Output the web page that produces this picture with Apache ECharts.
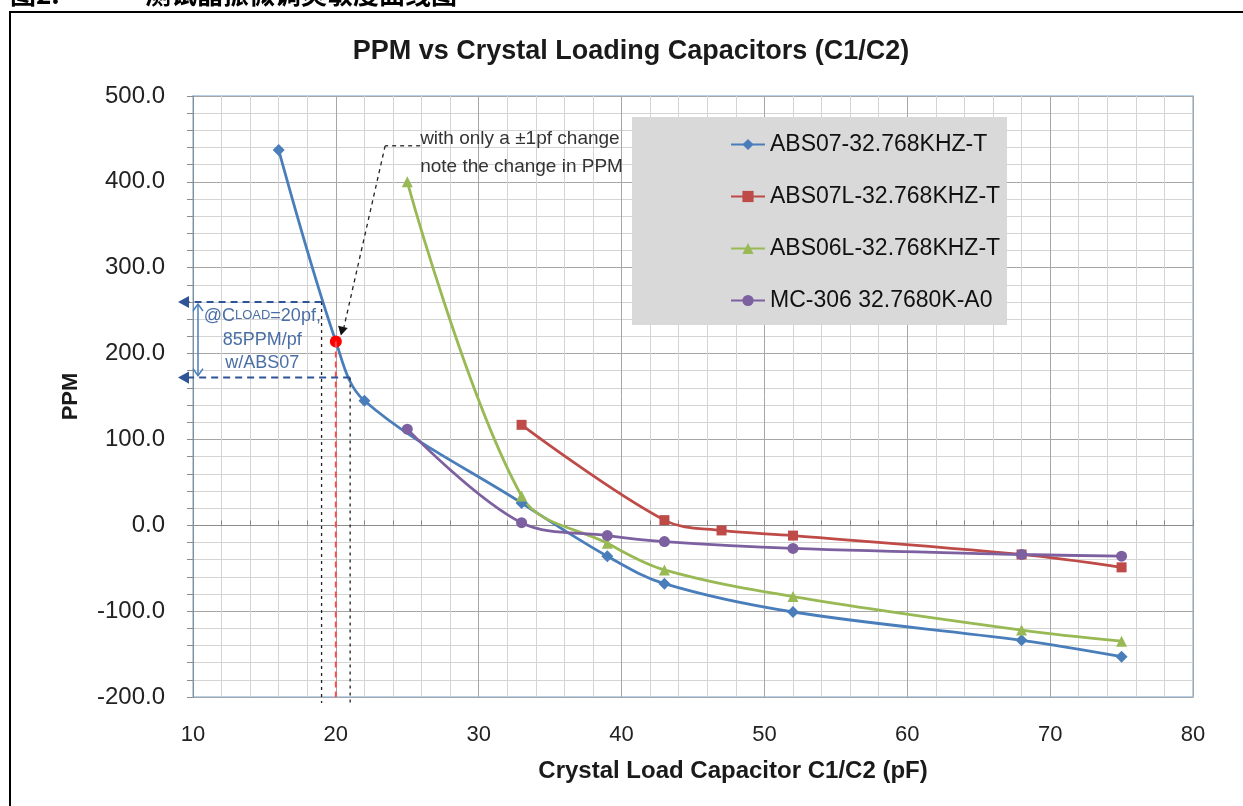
<!DOCTYPE html>
<html>
<head>
<meta charset="utf-8">
<script src="https://cdn.jsdelivr.net/npm/echarts@6/dist/echarts.min.js"></script>
<style>
html, body { margin: 0; padding: 0; background: #fff; }
#main { width: 1243px; height: 806px; }
</style>
</head>
<body>
<div id="main"></div>
<script>
// tick labels
var xTicks = [10, 20, 30, 40, 50, 60, 70, 80];
var yTicks = [-200, -100, 0, 100, 200, 300, 400, 500];

// series names
var seriesNames = ["ABS07-32.768KHZ-T", "ABS07L-32.768KHZ-T", "ABS06L-32.768KHZ-T", "MC-306 32.7680K-A0"];

// load capacitor (pF) / PPM
var abs07Cap = [16, 20, 22, 33, 39, 43, 52, 68, 75];
var abs07Ppm = [437, 214, 145, 26, -36, -68, -101, -134, -153];
var abs07lCap = [33, 43, 47, 52, 68, 75];
var abs07lPpm = [117, 6, -6, -12, -34, -49];
var abs06lCap = [25, 33, 39, 43, 52, 68, 75];
var abs06lPpm = [400, 34, -21, -52, -83, -122, -135];
var mc306Cap = [25, 33, 39, 43, 52, 68, 75];
var mc306Ppm = [112, 3, -12, -19, -27, -34, -36];

// the marked point and the ±1pf span around it
var markCap = 20;
var spanLow = 19, spanHigh = 21;
var ppmAtLow = 260, ppmAtHigh = 172;

var colors = ["#4A7EBB", "#BE4B48", "#98B954", "#7D60A0"];
var font = "Liberation Sans";

function pairs(xs, ys) {
  return xs.map(function (x, i) { return [x, ys[i]]; });
}

var blueData = pairs(abs07Cap, abs07Ppm).map(function (p) {
  if (p[0] === markCap) {
    return { value: p, symbol: "circle", symbolSize: 12, itemStyle: { color: "#FF0000" } };
  }
  return p;
});

let myChart = echarts.init(document.getElementById("main"));

function mkSeries(name, data, symbol, size, color) {
  return {
    name: name,
    type: "line",
    data: data,
    smooth: 0.35,
    symbol: symbol,
    symbolSize: size,
    showAllSymbol: true,
    lineStyle: { width: 2.8, color: color },
    itemStyle: { color: color },
    z: 3
  };
}

var option = {
  animation: false,
  title: {
    text: "PPM vs Crystal Loading Capacitors (C1/C2)",
    left: 626,
    top: 33,
    textAlign: "center",
    textStyle: { fontFamily: font, fontSize: 27, fontWeight: "bold", color: "#1a1a1a" }
  },
  grid: {
    left: 193,
    right: 50,
    top: 96,
    bottom: 109,
    show: true,
    borderColor: "#9DC3E6",
    borderWidth: 1.5
  },
  legend: {
    orient: "vertical",
    left: 725,
    top: 128,
    itemGap: 29,
    itemWidth: 34,
    itemHeight: 14,
    z: 6,
    data: seriesNames,
    textStyle: { fontFamily: font, fontSize: 23, color: "#111" }
  },
  xAxis: [
    {
      type: "value",
      min: xTicks[0],
      max: xTicks[xTicks.length - 1],
      interval: 10,
      name: "Crystal Load Capacitor C1/C2 (pF)",
      nameLocation: "middle",
      nameGap: 62,
      nameTextStyle: { fontFamily: font, fontSize: 24, fontWeight: "bold", color: "#1a1a1a", padding: [0, 0, 0, 80] },
      axisLine: { show: false, onZero: false },
      axisTick: { show: false },
      axisLabel: { margin: 27, fontFamily: font, fontSize: 22, color: "#222" },
      splitLine: { show: true, lineStyle: { color: "#A6A6A6", width: 1 } },
      minorTick: { show: false, splitNumber: 5 },
      minorSplitLine: { show: true, lineStyle: { color: "#D4D4D4", width: 1 } }
    },
    {
      type: "value",
      min: xTicks[0],
      max: xTicks[xTicks.length - 1],
      interval: 10,
      axisLine: { show: true, onZero: true, lineStyle: { color: "#8C8C8C", width: 1 } },
      axisTick: { show: true, length: 5, lineStyle: { color: "#8C8C8C" } },
      minorTick: { show: true, splitNumber: 5, length: 5, lineStyle: { color: "#8C8C8C" } },
      axisLabel: { show: false },
      splitLine: { show: false }
    }
  ],
  yAxis: {
    type: "value",
    min: yTicks[0],
    max: yTicks[yTicks.length - 1],
    interval: 100,
    name: "PPM",
    nameLocation: "middle",
    nameGap: 111,
    nameTextStyle: { fontFamily: font, fontSize: 22, fontWeight: "bold", color: "#1a1a1a" },
    axisLine: { show: true, lineStyle: { color: "#8C8C8C", width: 1 } },
    axisTick: { show: true, length: 6, lineStyle: { color: "#8C8C8C" } },
    minorTick: { show: true, splitNumber: 5, length: 6, lineStyle: { color: "#8C8C8C" } },
    axisLabel: {
      margin: 28,
      fontFamily: font,
      fontSize: 24,
      color: "#222",
      formatter: function (v) { return v.toFixed(1); }
    },
    splitLine: { show: true, lineStyle: { color: "#A6A6A6", width: 1 } },
    minorSplitLine: { show: true, lineStyle: { color: "#D4D4D4", width: 1 } }
  },
  series: [
    mkSeries(seriesNames[0], blueData, "diamond", 12, colors[0]),
    mkSeries(seriesNames[1], pairs(abs07lCap, abs07lPpm), "rect", 10, colors[1]),
    mkSeries(seriesNames[2], pairs(abs06lCap, abs06lPpm), "triangle", 11, colors[2]),
    mkSeries(seriesNames[3], pairs(mc306Cap, mc306Ppm), "circle", 11, colors[3])
  ]
};

option && myChart.setOption(option);

// annotations, placed through the chart's own scales
function px(x, y) {
  return myChart.convertToPixel({ gridIndex: 0 }, [x, y]);
}
function dashLine(a, b, color, width, dash) {
  return {
    type: "line",
    z: 10,
    shape: { x1: a[0], y1: a[1], x2: b[0], y2: b[1] },
    style: { stroke: color, lineWidth: width, lineDash: dash }
  };
}
function arrowHead(tip, from, color, size) {
  var dx = tip[0] - from[0], dy = tip[1] - from[1];
  var len = Math.sqrt(dx * dx + dy * dy);
  var ux = dx / len, uy = dy / len;
  var bx = tip[0] - ux * size, by = tip[1] - uy * size;
  var w = size * 0.55;
  return {
    type: "polygon",
    z: 11,
    shape: { points: [tip, [bx - uy * w, by + ux * w], [bx + uy * w, by - ux * w]] },
    style: { fill: color }
  };
}

var yBottom = px(markCap, yTicks[0])[1];
var blue = "#2F5597";
var lowTop = px(spanLow, ppmAtLow);
var highTop = px(spanHigh, ppmAtHigh);
var leftEnd = 178;
var markPt = px(markCap, abs07Ppm[abs07Cap.indexOf(markCap)]);
var g = [];

g.push({
  type: "rect", z: 3,
  shape: { x: 632, y: 117, width: 375, height: 208 },
  style: { fill: "#D9D9D9" }
});

// black dashed verticals at 19 and 21 pF, red at 20 pF
g.push(dashLine(lowTop, [lowTop[0], yBottom + 6], "#222", 1.3, [3, 4]));
g.push(dashLine(highTop, [highTop[0], yBottom + 8], "#222", 1.3, [3, 4]));
g.push(dashLine(markPt, [markPt[0], yBottom], "#FF4D4D", 2, [6, 4]));

// blue horizontal arrows
g.push(dashLine(lowTop, [leftEnd + 8, lowTop[1]], blue, 2, [7, 5]));
g.push(arrowHead([leftEnd, lowTop[1]], [leftEnd + 10, lowTop[1]], blue, 11));
g.push(dashLine(highTop, [leftEnd + 8, highTop[1]], blue, 2, [7, 5]));
g.push(arrowHead([leftEnd, highTop[1]], [leftEnd + 10, highTop[1]], blue, 11));

// blue double arrow
var vx = px(10.35, 0)[0];
g.push({
  type: "line", z: 10,
  shape: { x1: vx, y1: lowTop[1] + 2, x2: vx, y2: highTop[1] - 2 },
  style: { stroke: "#4A7EBB", lineWidth: 1.5 }
});
g.push({
  type: "polyline", z: 10,
  shape: { points: [[vx - 5, highTop[1] - 9], [vx, highTop[1] - 2], [vx + 5, highTop[1] - 9]] },
  style: { stroke: "#4A7EBB", lineWidth: 1.5, fill: null }
});
g.push({
  type: "polyline", z: 10,
  shape: { points: [[vx - 5, lowTop[1] + 9], [vx, lowTop[1] + 2], [vx + 5, lowTop[1] + 9]] },
  style: { stroke: "#4A7EBB", lineWidth: 1.5, fill: null }
});

// blue note
var noteX = px(14.85, 0)[0];
var noteColor = "#4A6FA5";
g.push({
  type: "text", z: 12,
  style: {
    x: noteX, y: px(0, 244)[1],
    text: "@C{s|LOAD}=20pf,",
    align: "center", verticalAlign: "middle",
    fontFamily: font, fontSize: 18, fill: noteColor,
    rich: { s: { fontFamily: font, fontSize: 13, fill: noteColor } }
  }
});
g.push({
  type: "text", z: 12,
  style: {
    x: noteX, y: px(0, 216)[1], text: "85PPM/pf",
    align: "center", verticalAlign: "middle",
    fontFamily: font, fontSize: 18, fill: noteColor
  }
});
g.push({
  type: "text", z: 12,
  style: {
    x: noteX, y: px(0, 189)[1], text: "w/ABS07",
    align: "center", verticalAlign: "middle",
    fontFamily: font, fontSize: 18, fill: noteColor
  }
});

// black dashed pointer to the marked point
var bend = px(23.45, 442);
var bendEnd = px(25.9, 442);
var tip = [markPt[0] + 5, markPt[1] - 6];
g.push(dashLine(bendEnd, bend, "#222", 1.3, [4, 4]));
g.push(dashLine(bend, [tip[0] + 3, tip[1] - 8], "#222", 1.3, [4, 4]));
g.push(arrowHead(tip, bend, "#111", 9));

g.push({
  type: "text", z: 12,
  style: {
    x: bendEnd[0], y: px(0, 450)[1], text: "with only a \u00B11pf change",
    align: "left", verticalAlign: "middle",
    fontFamily: font, fontSize: 19, fill: "#333"
  }
});
g.push({
  type: "text", z: 12,
  style: {
    x: bendEnd[0], y: px(0, 418)[1], text: "note the change in PPM",
    align: "left", verticalAlign: "middle",
    fontFamily: font, fontSize: 19, fill: "#333"
  }
});

// page frame and the cut caption above it
g.push({
  type: "polyline", z: 20,
  shape: { points: [[10, 810], [10, 12], [1250, 12]] },
  style: { stroke: "#000", lineWidth: 2, fill: null }
});
g.push({
  type: "text", z: 20,
  style: {
    x: 10, y: -6, text: "图2:",
    align: "left", verticalAlign: "middle",
    fontFamily: "Noto Sans CJK SC", fontSize: 26, fontWeight: "bold", fill: "#000"
  }
});
g.push({
  type: "text", z: 20,
  style: {
    x: 145, y: -6, text: "测试晶振微调灵敏度曲线图",
    align: "left", verticalAlign: "middle",
    fontFamily: "Noto Sans CJK SC", fontSize: 26, fontWeight: "bold", fill: "#000"
  }
});

myChart.setOption({ graphic: g });
</script>
</body>
</html>
